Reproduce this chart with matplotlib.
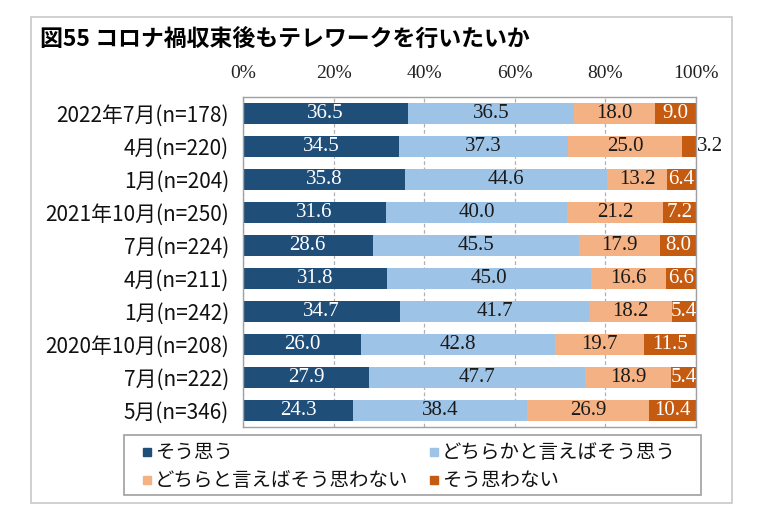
import matplotlib
matplotlib.use("Agg")
import matplotlib.pyplot as plt
from matplotlib.patches import Rectangle
import numpy as np

plt.rcParams['font.family'] = ['Noto Sans CJK JP', 'DejaVu Sans']

title = "図55 コロナ禍収束後もテレワークを行いたいか"
categories = ["2022年7月(n=178)", "4月(n=220)", "1月(n=204)", "2021年10月(n=250)",
              "7月(n=224)", "4月(n=211)", "1月(n=242)", "2020年10月(n=208)",
              "7月(n=222)", "5月(n=346)"]
series_names = ["そう思う", "どちらかと言えばそう思う", "どちらと言えばそう思わない", "そう思わない"]
agree = [36.5, 34.5, 35.8, 31.6, 28.6, 31.8, 34.7, 26.0, 27.9, 24.3]
rather_agree = [36.5, 37.3, 44.6, 40.0, 45.5, 45.0, 41.7, 42.8, 47.7, 38.4]
rather_disagree = [18.0, 25.0, 13.2, 21.2, 17.9, 16.6, 18.2, 19.7, 18.9, 26.9]
disagree = [9.0, 3.2, 6.4, 7.2, 8.0, 6.6, 5.4, 11.5, 5.4, 10.4]
xticks = [0, 20, 40, 60, 80, 100]
xtick_labels = ["0%", "20%", "40%", "60%", "80%", "100%"]

colors = ["#1f4e79", "#9dc3e6", "#f4b183", "#c55a11"]
text_colors = ["white", "#1a1a1a", "#1a1a1a", "white"]

W, H = 780, 521
fig = plt.figure(figsize=(W / 100, H / 100), dpi=100)

# outer frame
fig.patches.append(Rectangle((31 / W, 1 - 503 / H), (732 - 31) / W, (503 - 17) / H,
                             transform=fig.transFigure, fill=False, edgecolor="#c8c8c8", lw=1.2))

fig.text(40 / W, 1 - 39 / H, title, fontsize=16.5, fontweight="bold", va="center", ha="left")

ax = fig.add_axes([243 / W, 1 - 427 / H, (696 - 243) / W, (427 - 97) / H])
data = [agree, rather_agree, rather_disagree, disagree]
y = np.arange(len(categories))
left = np.zeros(len(categories))
serif = "Liberation Serif"
for si, vals in enumerate(data):
    vals = np.array(vals)
    ax.barh(y, vals, left=left, height=0.64, color=colors[si], edgecolor="none", zorder=2)
    for i, v in enumerate(vals):
        if si == 3 and v < 4:
            ax.text(left[i] + v + 0.3, y[i], f"{v:.1f}", ha="left", va="center",
                    fontsize=15, family=serif, color="#1a1a1a", clip_on=False, zorder=3)
        else:
            ax.text(left[i] + v / 2, y[i], f"{v:.1f}", ha="center", va="center",
                    fontsize=15, family=serif, color=text_colors[si], zorder=3)
    left += vals

ax.set_xlim(0, 100)
ax.set_ylim(len(categories) - 0.5, -0.5)
ax.set_xticks(xticks)
ax.set_xticklabels(xtick_labels, family=serif, fontsize=14, color="#222222")
ax.xaxis.tick_top()
ax.tick_params(axis="x", length=0, pad=11)
ax.set_yticks(y)
ax.set_yticklabels(categories, fontsize=15, color="#111111")
ax.tick_params(axis="y", length=0, pad=10)
ax.grid(axis="x", linestyle=(0, (3, 2)), color="#b0b0b0", lw=0.9, zorder=0)
for s in ax.spines.values():
    s.set_color("#a0a0a0")
    s.set_linewidth(1.0)

# legend box
fig.patches.append(Rectangle((124 / W, 1 - 495 / H), (701 - 124) / W, (495 - 435) / H,
                             transform=fig.transFigure, fill=False, edgecolor="#a0a0a0", lw=1.2))
pos = [(147, 452), (434, 452), (147, 480), (434, 480)]
for (px, py), name, c in zip(pos, series_names, colors):
    fig.patches.append(Rectangle(((px - 4) / W, 1 - (py + 4) / H), 8 / W, 8 / H,
                                 transform=fig.transFigure, color=c))
    fig.text((px + 8) / W, 1 - py / H, name, fontsize=14, va="center", ha="left", color="#111111")

fig.savefig("out.png", dpi=100)
